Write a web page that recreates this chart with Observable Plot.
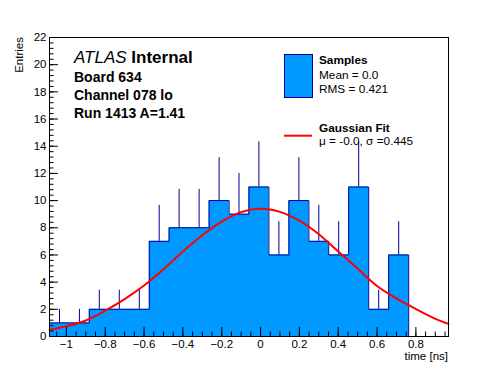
<!DOCTYPE html>
<html><head><meta charset="utf-8">
<script src="https://cdn.jsdelivr.net/npm/d3@7"></script>
<script src="https://cdn.jsdelivr.net/npm/@observablehq/plot@0.6"></script>
<style>
body{margin:0;background:#fff}
svg{font-family:"Liberation Sans",Arial,Helvetica,sans-serif}
</style>
</head><body><div id="chart"></div>
<script>
// Histogram bin edges (ns) and contents
const binEdges = [-1.087, -0.984, -0.882, -0.779, -0.676, -0.573, -0.471, -0.368, -0.265, -0.162, -0.060,
                  0.043, 0.146, 0.249, 0.351, 0.454, 0.557, 0.660, 0.763, 0.865, 0.968];
const counts = [1, 1, 2, 2, 2, 7, 8, 8, 10, 9, 11, 6, 10, 7, 6, 11, 2, 6, 0, 0];
const upperErrors = [1, 1, 1.41, 1.41, 1.41, 2.65, 2.83, 2.83, 3.16, 3, 3.32, 2.45, 3.16, 2.65, 2.45, 3.32, 1.41, 2.45, 0, 0];
// Gaussian fit curve
const fitX = [-1.087, -1.0, -0.9, -0.8, -0.7, -0.6, -0.5, -0.4, -0.3, -0.2, -0.1, 0, 0.1, 0.2, 0.3, 0.4, 0.5, 0.6, 0.7, 0.8, 0.9, 0.968];
const fitY = [0.50, 0.76, 1.18, 1.90, 2.75, 3.75, 4.95, 6.25, 7.45, 8.45, 9.15, 9.40, 9.17, 8.52, 7.52, 6.25, 5.0, 3.72, 2.80, 2.02, 1.30, 0.93];
// Axis ticks
const xTickValues = [-1, -0.8, -0.6, -0.4, -0.2, 0, 0.2, 0.4, 0.6, 0.8];
const yTickValues = [0, 2, 4, 6, 8, 10, 12, 14, 16, 18, 20, 22];
const xMinorTicks = d3.range(-1.05, 0.96, 0.05).map(v => +v.toFixed(2));
const yMinorTicks = d3.range(0, 22.01, 0.4).map(v => +v.toFixed(1));

const bins = counts.map((n, i) => ({x1: binEdges[i], x2: binEdges[i + 1], n, err: upperErrors[i], xc: (binEdges[i] + binEdges[i + 1]) / 2}));
const outline = [{x: binEdges[0], y: 0}];
bins.forEach(b => { outline.push({x: b.x1, y: b.n}); outline.push({x: b.x2, y: b.n}); });
const errBars = bins.filter(b => b.n > 0).map(b => ({x: b.xc, y1: b.n, y2: b.n + b.err}));
const fit = fitX.map((x, i) => ({x, y: fitY[i]}));

const fillBlue = "#0099ff", darkBlue = "#000099";
const fmt = d3.format("~g");

const svg = Plot.plot({
  width: 498, height: 374,
  marginLeft: 49, marginRight: 50, marginTop: 37, marginBottom: 38,
  style: {fontSize: "11.5px", fontFamily: "'Liberation Sans', Arial, sans-serif", color: "black", background: "white"},
  x: {domain: [-1.087, 0.968], axis: null},
  y: {domain: [0, 22], axis: null},
  marks: [
    Plot.areaY(outline, {x: "x", y1: 0, y2: "y", fill: fillBlue, curve: "linear"}),
    Plot.line(outline, {x: "x", y: "y", stroke: darkBlue, strokeWidth: 1}),
    Plot.ruleX(errBars, {x: "x", y1: "y1", y2: "y2", stroke: darkBlue, strokeWidth: 1}),
    Plot.line(fit, {x: "x", y: "y", stroke: "#ff0000", strokeWidth: 2, curve: "catmull-rom"}),
    Plot.frame({stroke: "black", strokeWidth: 1}),
    Plot.axisX({ticks: xTickValues, tickSize: -9, tickFormat: () => "", label: null, stroke: "black"}),
    Plot.axisX({ticks: xMinorTicks, tickSize: -4.5, tickFormat: () => "", label: null, stroke: "black"}),
    Plot.axisX({ticks: xTickValues, tickSize: 0, tickPadding: 3, tickFormat: fmt, label: null, fill: "black"}),
    Plot.axisY({ticks: yTickValues, tickSize: -9, tickFormat: () => "", label: null, stroke: "black"}),
    Plot.axisY({ticks: yMinorTicks, tickSize: -4.5, tickFormat: () => "", label: null, stroke: "black"}),
    Plot.axisY({ticks: yTickValues, tickSize: 0, tickPadding: 3, tickFormat: fmt, label: null, fill: "black"})
  ]
});

const s = d3.select(svg);
const txt = (x, y, size) => s.append("text").attr("x", x).attr("y", y).attr("font-size", size).attr("text-anchor", "start").attr("fill", "black");
// Axis titles
s.append("text").attr("transform", "translate(23,37) rotate(-90)").attr("text-anchor", "end")
  .attr("font-size", 11.5).text("Entries");
s.append("text").attr("x", 448).attr("y", 360).attr("text-anchor", "end")
  .attr("font-size", 11.5).text("time [ns]");

// ATLAS label block
const atlas = txt(74, 63.3, 17);
atlas.append("tspan").attr("font-style", "italic").text("ATLAS ");
atlas.append("tspan").attr("font-weight", "bold").text("Internal");
[["Board 634", 81.7], ["Channel 078 lo", 100], ["Run 1413 A=1.41", 118.3]].forEach(([t, y]) =>
  txt(74, y, 14).attr("font-weight", "bold").text(t));

// Legend
s.append("rect").attr("x", 284.5).attr("y", 54.5).attr("width", 28).attr("height", 43)
  .attr("fill", fillBlue).attr("stroke", darkBlue).attr("stroke-width", 1);
s.append("line").attr("x1", 284).attr("x2", 312).attr("y1", 135.7).attr("y2", 135.7)
  .attr("stroke", "#ff0000").attr("stroke-width", 2);
txt(319, 64, 11.8).attr("font-weight", "bold").text("Samples");
txt(319, 79, 11.8).text("Mean = 0.0");
txt(319, 92.7, 11.8).text("RMS = 0.421");
txt(319, 132, 11.8).attr("font-weight", "bold").text("Gaussian Fit");
txt(319, 145, 11.8).text("μ = -0.0, σ =0.445");

document.getElementById("chart").appendChild(svg);
</script>
</body></html>
